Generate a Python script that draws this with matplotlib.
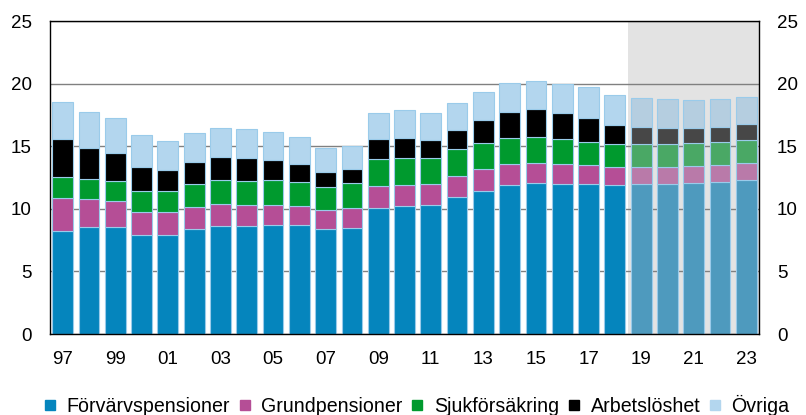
import matplotlib
matplotlib.use("Agg")
import matplotlib.pyplot as plt
from matplotlib.lines import Line2D
import numpy as np

plt.rcParams["font.family"] = ["Liberation Sans", "DejaVu Sans"]

years = list(range(1997, 2024))
tick_years = list(range(1997, 2024, 2))
tick_labels = [f"{y % 100:02d}" for y in tick_years]
forecast_start = 2019

series_names = ["Förvärvspensioner", "Grundpensioner", "Sjukförsäkring", "Arbetslöshet", "Övriga"]

forvarvspensioner = [8.25, 8.52, 8.52, 7.88, 7.91, 8.39, 8.65, 8.65, 8.71, 8.68, 8.39, 8.49,
                     10.06, 10.22, 10.30, 10.92, 11.45, 11.88, 12.03, 12.00, 12.00, 11.90,
                     11.98, 12.00, 12.06, 12.17, 12.33]
grundpensioner = [2.59, 2.26, 2.08, 1.89, 1.83, 1.78, 1.73, 1.63, 1.62, 1.54, 1.49, 1.60,
                  1.74, 1.68, 1.70, 1.68, 1.73, 1.67, 1.63, 1.60, 1.50, 1.46,
                  1.39, 1.37, 1.36, 1.35, 1.33]
sjukforsakring = [1.70, 1.63, 1.62, 1.63, 1.66, 1.78, 1.89, 1.94, 1.97, 1.95, 1.86, 1.94,
                  2.15, 2.16, 2.08, 2.15, 2.08, 2.10, 2.10, 1.95, 1.86, 1.80,
                  1.81, 1.81, 1.81, 1.82, 1.84]
arbetsloshet = [3.01, 2.45, 2.24, 1.91, 1.70, 1.76, 1.84, 1.86, 1.60, 1.43, 1.20, 1.15,
                1.60, 1.62, 1.44, 1.57, 1.83, 2.11, 2.21, 2.13, 1.87, 1.57,
                1.35, 1.25, 1.25, 1.22, 1.25]
ovriga = [3.01, 2.87, 2.77, 2.56, 2.34, 2.34, 2.32, 2.27, 2.21, 2.11, 1.92, 1.86,
          2.13, 2.19, 2.11, 2.16, 2.24, 2.32, 2.26, 2.26, 2.47, 2.36,
          2.35, 2.34, 2.24, 2.21, 2.18]

series = [forvarvspensioner, grundpensioner, sjukforsakring, arbetsloshet, ovriga]
colors = ["#0585BD", "#B54E96", "#009A2E", "#000000", "#B3D6EE"]
forecast_colors = ["#4E9ABE", "#B97AA9", "#4AA865", "#474747", "#B5CEE0"]
edge_color = "#9ACBEA"

fig = plt.figure(figsize=(8.06, 4.15), dpi=100)
ax = fig.add_axes([50 / 806, 81 / 415, (759 - 50) / 806, (334 - 21) / 415])

x = np.array(years)
hist = x < forecast_start
fc = ~hist

# forecast background
ax.axvspan(forecast_start - 0.5, 2023.48, color="#E3E3E3", zorder=0, lw=0)

bottom = np.zeros(len(years))
for vals, c, fcol in zip(series, colors, forecast_colors):
    v = np.array(vals)
    ax.bar(x[hist], v[hist], bottom=bottom[hist], width=0.79, color=c,
           edgecolor=edge_color, linewidth=0.8, zorder=3)
    ax.bar(x[fc], v[fc], bottom=bottom[fc], width=0.79, color=fcol,
           edgecolor=edge_color, linewidth=0.8, zorder=3)
    bottom += v

ax.set_xlim(1997 - 0.48, 2023 + 0.48)
ax.set_ylim(0, 25)
ax.set_yticks([0, 5, 10, 15, 20, 25])
ax.set_xticks(tick_years)
ax.set_xticklabels(tick_labels)
ax.yaxis.grid(True, color="#808080", linewidth=1.0, zorder=1)
ax.set_axisbelow(True)

for s in ax.spines.values():
    s.set_color("black")
    s.set_linewidth(1.0)
    s.set_zorder(4)

ax.tick_params(axis="both", length=0, labelsize=13.5, colors="black")
ax.tick_params(axis="y", pad=13, right=True, labelright=True)
ax.tick_params(axis="x", pad=12)

handles = [Line2D([0], [0], marker="s", linestyle="none", markersize=6.5,
                  markerfacecolor=c, markeredgecolor=c) for c in colors]
fig.legend(handles, series_names, loc="center left", bbox_to_anchor=(45 / 806, 10 / 415),
           ncol=5, frameon=False, fontsize=14.1, handletextpad=0.6,
           columnspacing=0.5, handlelength=0.5, borderaxespad=0, borderpad=0)

fig.savefig("out.png", dpi=100)
